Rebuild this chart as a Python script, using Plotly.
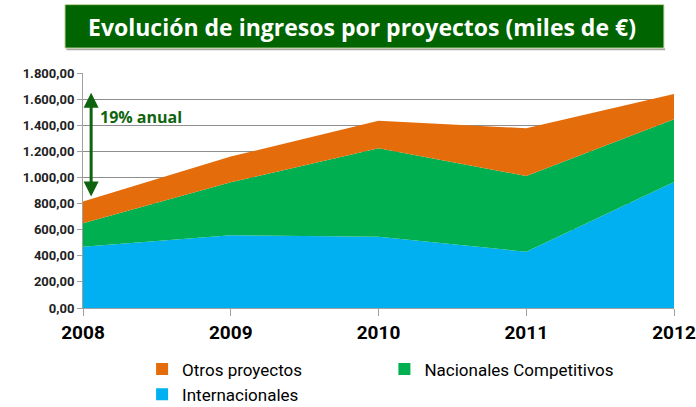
import plotly.graph_objects as go

years = [2008, 2009, 2010, 2011, 2012]
internacionales = [470, 558, 546, 431, 965]
nacionales = [180, 405, 678, 580, 481]
otros = [165, 197, 211, 366, 194]
y_ticks = [0, 200, 400, 600, 800, 1000, 1200, 1400, 1600, 1800]

title_text = "Evolución de ingresos por proyectos (miles de €)"
arrow_text = "19% anual"

FONT = "Roboto, Arial, sans-serif"
LEG_FONT = dict(family="Roboto, sans-serif", size=17, color="#000000")
DARK_GREEN = "#0E640E"

fig = go.Figure()
series = [
    ("Internacionales", internacionales, "#00B0F0", "legend"),
    ("Nacionales Competitivos", nacionales, "#00B050", "legend2"),
    ("Otros proyectos", otros, "#E46C0A", "legend"),
]
for name, vals, col, leg in series:
    fig.add_trace(go.Scatter(
        x=years, y=vals, name=name, mode="lines",
        stackgroup="one", line=dict(width=0, color=col),
        fillcolor=col, hoverinfo="x+y+name", showlegend=False,
    ))
# legend entries with square swatches
for name, vals, col, leg in series:
    fig.add_trace(go.Scatter(
        x=[None], y=[None], name=name, mode="markers",
        marker=dict(symbol="square", size=12, color=col),
        legend=leg, showlegend=True, hoverinfo="skip",
    ))

total_start = internacionales[0] + nacionales[0] + otros[0]
total_end = internacionales[-1] + nacionales[-1] + otros[-1]

fig.update_layout(
    width=696, height=407,
    margin=dict(l=83, r=22, t=73, b=99, autoexpand=False),
    paper_bgcolor="white", plot_bgcolor="white",
    separators=",.",
    showlegend=True,
    legend=dict(
        orientation="v", x=0.1, xanchor="left", y=-0.185, yanchor="top",
        traceorder="reversed",
        font=LEG_FONT, bgcolor="rgba(0,0,0,0)",
    ),
    legend2=dict(
        orientation="v", x=0.51, xanchor="left", y=-0.185, yanchor="top",
        font=LEG_FONT, bgcolor="rgba(0,0,0,0)",
    ),
    xaxis=dict(
        range=[2008, 2012], tickvals=years, ticktext=[str(y) for y in years],
        showgrid=False, showline=True, linecolor="#A0A0A0", linewidth=1,
        ticks="outside", ticklen=7, tickcolor="#A0A0A0",
        tickfont=dict(family=FONT, size=19, color="#000000", weight="bold"),
        zeroline=False, fixedrange=True,
    ),
    yaxis=dict(
        range=[0, 1800], tickvals=y_ticks, tickformat=",.2f",
        showgrid=True, gridcolor="#8E8E8E", gridwidth=1,
        showline=True, linecolor="#A0A0A0", linewidth=1,
        ticks="outside", ticklen=5, tickcolor="#A0A0A0",
        tickfont=dict(family=FONT, size=13, color="#222222", weight="bold"),
        zeroline=False, fixedrange=True,
    ),
)

# title box (with thin shadow line)
fig.add_shape(type="line", xref="paper", yref="paper",
              x0=-0.028, x1=0.985, y0=1.101, y1=1.101,
              line=dict(color="#A8A8A8", width=2), layer="below")
fig.add_shape(type="rect", xref="paper", yref="paper",
              x0=-0.0305, x1=0.983, y0=1.106, y1=1.291,
              fillcolor="#006400", line=dict(color="#C8D8A0", width=1), layer="below")
fig.add_annotation(xref="paper", yref="paper", x=0.472, y=1.197,
                   xanchor="center", yanchor="middle",
                   text=title_text, showarrow=False,
                   font=dict(family="Open Sans, sans-serif", size=23, color="white", weight="bold"))

# growth arrow
fig.add_annotation(x=2008.055, y=total_end + 8, ax=2008.055, ay=total_start + 28,
                   xref="x", yref="y", axref="x", ayref="y",
                   text="", showarrow=True, arrowhead=2, startarrowhead=2,
                   arrowside="end+start", arrowwidth=3, arrowsize=1,
                   arrowcolor=DARK_GREEN)
fig.add_annotation(x=2008.1, y=1462, xref="x", yref="y", xanchor="left", yanchor="middle",
                   text=arrow_text, showarrow=False,
                   font=dict(family="Open Sans, sans-serif", size=16, color=DARK_GREEN, weight="bold"))

fig.write_html("out.html", config={"displayModeBar": False},
               post_script="document.body.style.margin='0';")
